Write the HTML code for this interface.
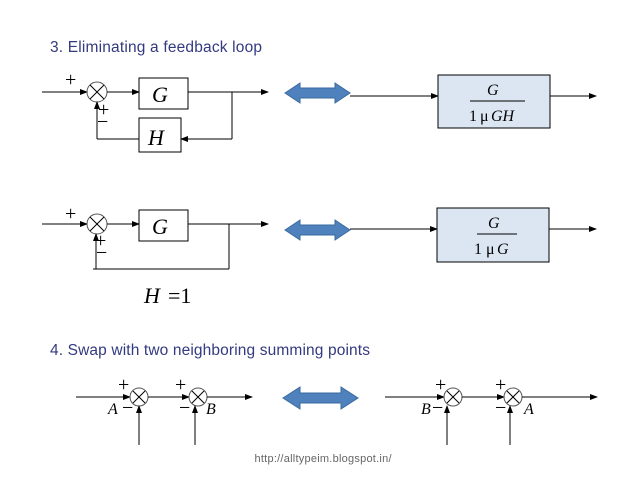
<!DOCTYPE html>
<html><head><meta charset="utf-8"><style>
body{margin:0;background:#fff}
svg{display:block}
.t{font-family:"Liberation Sans",sans-serif;font-size:15.5px;fill:#333a80}
.m{font-family:"Liberation Serif",serif;font-style:italic}
.r{font-family:"Liberation Serif",serif}
</style></head><body>
<svg width="638" height="479" viewBox="0 0 638 479" xmlns="http://www.w3.org/2000/svg">
<defs>
<marker id="a" markerWidth="8" markerHeight="6" refX="7" refY="3" orient="auto" markerUnits="userSpaceOnUse"><path d="M0,0 L8,3 L0,6z" fill="#000"/></marker>
</defs>
<text class="t" x="50" y="52" textLength="212">3. Eliminating a feedback loop</text>
<text class="t" x="50" y="355" textLength="320">4. Swap with two neighboring summing points</text>
<g stroke="#000" stroke-width="1" fill="none">
<line x1="42" y1="92" x2="87" y2="92" marker-end="url(#a)"/>
<circle cx="97" cy="92" r="10" stroke="#555"/>
<line x1="90" y1="85" x2="104" y2="99"/><line x1="104" y1="85" x2="90" y2="99"/>
<line x1="107" y1="92" x2="139" y2="92" marker-end="url(#a)"/>
<rect x="139" y="78" width="49" height="31"/>
<line x1="188" y1="92" x2="268" y2="92" marker-end="url(#a)"/>
<line x1="232" y1="92" x2="232" y2="139"/>
<line x1="232" y1="139" x2="181" y2="139" marker-end="url(#a)"/>
<rect x="139" y="118" width="42" height="34"/>
<line x1="139" y1="139" x2="97" y2="139"/>
<line x1="97" y1="139" x2="97" y2="102" marker-end="url(#a)"/>
<line x1="350" y1="96" x2="438" y2="96" marker-end="url(#a)"/>
<rect x="438" y="75" width="112" height="53" fill="#dce6f2"/>
<line x1="550" y1="96" x2="596" y2="96" marker-end="url(#a)"/>
<line x1="470" y1="101" x2="525" y2="101"/>
<line x1="42" y1="224" x2="87" y2="224" marker-end="url(#a)"/>
<circle cx="97" cy="224" r="10" stroke="#555"/>
<line x1="90" y1="217" x2="104" y2="231"/><line x1="104" y1="217" x2="90" y2="231"/>
<line x1="107" y1="224" x2="139" y2="224" marker-end="url(#a)"/>
<rect x="139" y="210" width="49" height="31"/>
<line x1="188" y1="224" x2="268" y2="224" marker-end="url(#a)"/>
<line x1="229" y1="224" x2="229" y2="269"/>
<line x1="93" y1="269" x2="229" y2="269"/>
<line x1="96" y1="269" x2="96" y2="234" marker-end="url(#a)"/>
<line x1="350" y1="229" x2="437" y2="229" marker-end="url(#a)"/>
<rect x="437" y="208" width="112" height="54" fill="#dce6f2"/>
<line x1="549" y1="229" x2="596" y2="229" marker-end="url(#a)"/>
<line x1="477" y1="234" x2="517" y2="234"/>
<line x1="76" y1="397" x2="130" y2="397" marker-end="url(#a)"/>
<circle cx="139" cy="397" r="9" stroke="#555"/>
<line x1="133" y1="391" x2="145" y2="403"/><line x1="145" y1="391" x2="133" y2="403"/>
<line x1="148" y1="397" x2="189" y2="397" marker-end="url(#a)"/>
<circle cx="198" cy="397" r="9" stroke="#555"/>
<line x1="192" y1="391" x2="204" y2="403"/><line x1="204" y1="391" x2="192" y2="403"/>
<line x1="207" y1="397" x2="252" y2="397" marker-end="url(#a)"/>
<line x1="139" y1="445" x2="139" y2="406" marker-end="url(#a)"/>
<line x1="195" y1="445" x2="195" y2="406" marker-end="url(#a)"/>
<line x1="385" y1="397" x2="444" y2="397" marker-end="url(#a)"/>
<circle cx="453" cy="397" r="9" stroke="#555"/>
<line x1="447" y1="391" x2="459" y2="403"/><line x1="459" y1="391" x2="447" y2="403"/>
<line x1="462" y1="397" x2="504" y2="397" marker-end="url(#a)"/>
<circle cx="513" cy="397" r="9" stroke="#555"/>
<line x1="507" y1="391" x2="519" y2="403"/><line x1="519" y1="391" x2="507" y2="403"/>
<line x1="522" y1="397" x2="597" y2="397" marker-end="url(#a)"/>
<line x1="447" y1="445" x2="447" y2="406" marker-end="url(#a)"/>
<line x1="510" y1="445" x2="510" y2="406" marker-end="url(#a)"/>
</g>
<g fill="#4f81bd" stroke="#3a6aa0" stroke-width="1">
<path d="M285,93 L300,83 L300,88 L335,88 L335,83 L350,93 L335,103 L335,98 L300,98 L300,103z"/>
<path d="M285,230 L300,220 L300,225 L335,225 L335,220 L350,230 L335,240 L335,235 L300,235 L300,240z"/>
<path d="M283,398 L300,387 L300,393 L341,393 L341,387 L358,398 L341,409 L341,403 L300,403 L300,409z"/>
</g>
<g font-size="22">
<text class="m" x="152" y="102">G</text>
<text class="m" x="148" y="145">H</text>
<text class="m" x="152" y="234">G</text>
<text class="m" x="144" y="303" font-size="22">H</text><text class="r" x="168" y="303" font-size="22">=1</text>
</g>
<g font-size="16">
<text class="m" x="487" y="95">G</text>
<text class="r" x="469" y="121">1</text><text class="r" x="480" y="121">μ</text><text class="m" x="491" y="121">GH</text>
<text class="m" x="488" y="228">G</text>
<text class="r" x="474" y="254">1</text><text class="r" x="486" y="254">μ</text><text class="m" x="497" y="254">G</text>
<text class="m" x="108" y="414">A</text><text class="m" x="206" y="414">B</text>
<text class="m" x="421" y="414">B</text><text class="m" x="524" y="414">A</text>
</g>
<g font-family="Liberation Serif" font-size="20" fill="#000">
<text x="65" y="86">+</text><text x="98" y="116">+</text><text x="97" y="128">−</text>
<text x="65" y="220">+</text><text x="95" y="247">+</text><text x="96" y="259">−</text>
<text x="118" y="391">+</text><text x="175" y="391">+</text>
<text x="122" y="414">−</text><text x="179" y="414">−</text>
<text x="435" y="391">+</text><text x="495" y="391">+</text>
<text x="432" y="414">−</text><text x="495" y="414">−</text>
</g>
<text x="323" y="462" text-anchor="middle" font-family="Liberation Sans" font-size="11" fill="#666" textLength="137">http://alltypeim.blogspot.in/</text>
</svg>
</body></html>
